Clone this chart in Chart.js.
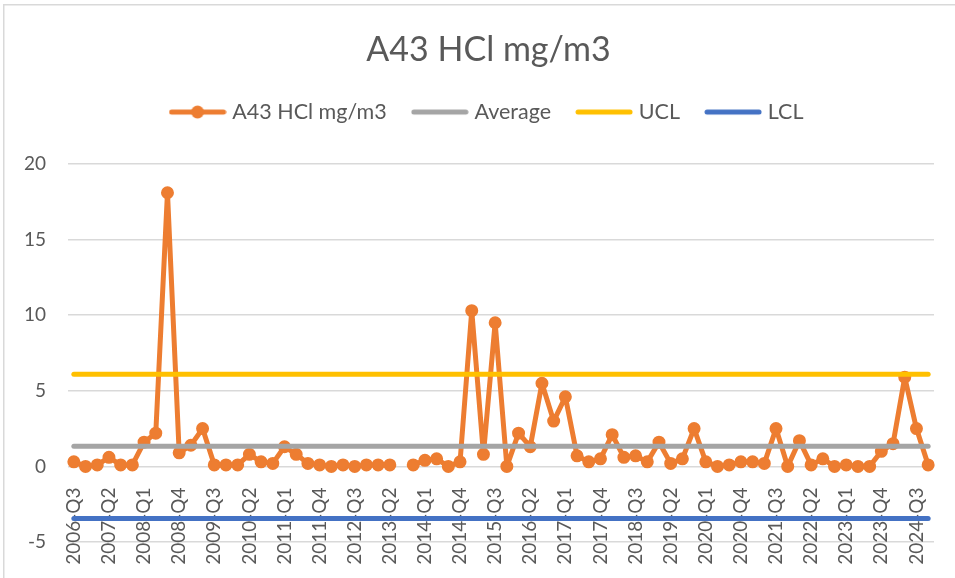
<!DOCTYPE html>
<html>
<head>
<meta charset="utf-8">
<script src="https://cdn.jsdelivr.net/npm/chart.js@4/dist/chart.umd.min.js"></script>
<style>
  html, body { margin: 0; padding: 0; background: #ffffff; }
  #wrap { width: 955px; height: 578px; }
</style>
</head>
<body>
<div id="wrap"><canvas id="c" width="955" height="578"></canvas></div>
<script>
// ---- Data ----
const categories = [
  '2006-Q3','2006-Q4',
  '2007-Q1','2007-Q2','2007-Q3','2007-Q4',
  '2008-Q1','2008-Q2','2008-Q3','2008-Q4',
  '2009-Q1','2009-Q2','2009-Q3','2009-Q4',
  '2010-Q1','2010-Q2','2010-Q3','2010-Q4',
  '2011-Q1','2011-Q2','2011-Q3','2011-Q4',
  '2012-Q1','2012-Q2','2012-Q3','2012-Q4',
  '2013-Q1','2013-Q2','2013-Q3','2013-Q4',
  '2014-Q1','2014-Q2','2014-Q3','2014-Q4',
  '2015-Q1','2015-Q2','2015-Q3','2015-Q4',
  '2016-Q1','2016-Q2','2016-Q3','2016-Q4',
  '2017-Q1','2017-Q2','2017-Q3','2017-Q4',
  '2018-Q1','2018-Q2','2018-Q3','2018-Q4',
  '2019-Q1','2019-Q2','2019-Q3','2019-Q4',
  '2020-Q1','2020-Q2','2020-Q3','2020-Q4',
  '2021-Q1','2021-Q2','2021-Q3','2021-Q4',
  '2022-Q1','2022-Q2','2022-Q3','2022-Q4',
  '2023-Q1','2023-Q2','2023-Q3','2023-Q4',
  '2024-Q1','2024-Q2','2024-Q3','2024-Q4'
];
const hclValues = [
  0.3, 0.0,
  0.1, 0.6, 0.1, 0.1,
  1.6, 2.2, 18.1, 0.9,
  1.4, 2.5, 0.1, 0.1,
  0.1, 0.8, 0.3, 0.2,
  1.3, 0.8, 0.2, 0.1,
  0.0, 0.1, 0.0, 0.1,
  0.1, 0.1, null, 0.1,
  0.4, 0.5, 0.0, 0.3,
  10.3, 0.8, 9.5, 0.0,
  2.2, 1.3, 5.5, 3.0,
  4.6, 0.7, 0.3, 0.5,
  2.1, 0.6, 0.7, 0.3,
  1.6, 0.2, 0.5, 2.5,
  0.3, 0.0, 0.1, 0.3,
  0.3, 0.2, 2.5, 0.0,
  1.7, 0.1, 0.5, 0.0,
  0.1, 0.0, 0.0, 1.0,
  1.5, 5.9, 2.5, 0.1
];
const averageValue = 1.33;
const uclValue = 6.1;
const lclValue = -3.44;
const seriesNames = ['A43 HCl mg/m3', 'Average', 'UCL', 'LCL'];
const yTicks = { min: -5, max: 20, step: 5 };
const tickEvery = 3;

// ---- Styles ----
const COLORS = { hcl: '#ED7D31', avg: '#A5A5A5', ucl: '#FFC000', lcl: '#4472C4' };
const TEXT = '#595959';
const GRID = '#D9D9D9';
const FONT = 'Lato';

function legendSwatch(color, withMarker) {
  const c = document.createElement('canvas');
  c.width = 58; c.height = 16;
  const g = c.getContext('2d');
  g.strokeStyle = color; g.lineWidth = 5; g.lineCap = 'round';
  g.beginPath(); g.moveTo(3, 8); g.lineTo(55, 8); g.stroke();
  if (withMarker) {
    g.fillStyle = color;
    g.beginPath(); g.arc(29, 8, 6.5, 0, Math.PI * 2); g.fill();
  }
  return c;
}
const swatches = [
  legendSwatch(COLORS.hcl, true),
  legendSwatch(COLORS.avg, false),
  legendSwatch(COLORS.ucl, false),
  legendSwatch(COLORS.lcl, false)
];

const borderPlugin = {
  id: 'chartBorder',
  beforeDraw(chart) {
    const ctx = chart.ctx;
    ctx.save();
    ctx.fillStyle = '#ffffff';
    ctx.fillRect(0, 0, chart.width, chart.height);
    ctx.strokeStyle = GRID;
    ctx.lineWidth = 1.5;
    ctx.strokeRect(3.75, 4.75, chart.width + 10, chart.height + 10);
    ctx.restore();
  }
};

const lineDataset = (label, values, color, extra) => Object.assign({
  label, data: values, borderColor: color, backgroundColor: color,
  borderWidth: 5, pointRadius: 0, pointHoverRadius: 0,
  borderCapStyle: 'round', borderJoinStyle: 'round', tension: 0, order: 1
}, extra || {});

new Chart(document.getElementById('c'), {
  type: 'line',
  data: {
    labels: categories,
    datasets: [
      lineDataset(seriesNames[0], hclValues, COLORS.hcl, {
        pointRadius: 5.5, pointBorderWidth: 2, pointBackgroundColor: COLORS.hcl,
        pointBorderColor: COLORS.hcl, spanGaps: false, order: 2
      }),
      lineDataset(seriesNames[1], categories.map(() => averageValue), COLORS.avg),
      lineDataset(seriesNames[2], categories.map(() => uclValue), COLORS.ucl),
      lineDataset(seriesNames[3], categories.map(() => lclValue), COLORS.lcl)
    ]
  },
  options: {
    responsive: false,
    animation: false,
    devicePixelRatio: 1,
    layout: { padding: { left: 22, right: 0, top: 0, bottom: 36 } },
    plugins: {
      tooltip: { enabled: false },
      title: {
        display: true, text: 'A43 HCl mg/m3', color: TEXT,
        font: { family: FONT, size: 34, weight: 'normal' },
        padding: { top: 30, bottom: 1.5 }
      },
      legend: {
        display: true, position: 'top',
        labels: {
          usePointStyle: true, pointStyleWidth: 48, padding: 29,
          color: TEXT, font: { family: FONT, size: 21.5 },
          generateLabels: () => seriesNames.map((name, i) => ({
            text: name, pointStyle: swatches[i], fontColor: TEXT,
            datasetIndex: i, hidden: false, lineWidth: 0,
            strokeStyle: 'rgba(0,0,0,0)', fillStyle: 'rgba(0,0,0,0)'
          }))
        }
      }
    },
    scales: {
      x: {
        type: 'category', offset: true,
        position: { y: 0 },
        grid: { display: false, drawTicks: false },
        border: { display: false },
        ticks: {
          autoSkip: false, maxRotation: 90, minRotation: 90, padding: 21,
          color: TEXT, font: { family: FONT, size: 19 },
          callback: function (val, idx) { return idx % tickEvery === 0 ? this.getLabelForValue(val) : ''; }
        },
        afterFit: (s) => { s.paddingLeft = 0; s.paddingRight = 0; }
      },
      xTop: {
        type: 'linear', axis: 'x', position: 'top', display: true,
        grid: { display: false, drawTicks: false }, border: { display: false },
        ticks: { display: false },
        afterFit: (s) => { s.height = 31.2; s.paddingLeft = 0; s.paddingRight = 0; }
      },
      y: {
        min: yTicks.min, max: yTicks.max,
        grid: { color: GRID, lineWidth: 1.5, drawTicks: false },
        border: { display: false },
        ticks: { stepSize: yTicks.step, padding: 22, color: TEXT, font: { family: FONT, size: 19 } },
        afterFit: (s) => { s.width = 46; }
      },
      yRight: {
        type: 'linear', axis: 'y', position: 'right', display: true,
        grid: { display: false, drawTicks: false }, border: { display: false },
        ticks: { display: false },
        afterFit: (s) => { s.width = 21; }
      }
    }
  },
  plugins: [borderPlugin]
});
</script>
</body>
</html>
